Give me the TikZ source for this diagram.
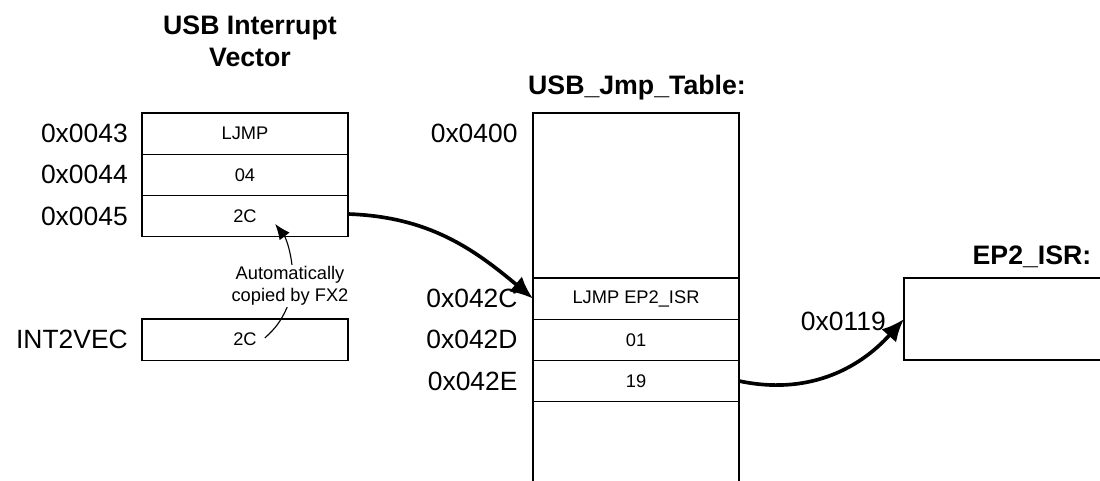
\documentclass[tikz,border=0pt]{standalone}
\usepackage{fontspec}
\setmainfont{Liberation Sans}
\usepackage{tikz}
\usetikzlibrary{arrows.meta, positioning}
\definecolor{lineDark}{HTML}{000000}
\tikzset{
  arrowBig/.style={-{Latex[length=16pt, width=14pt]}, lineDark, line width=2.6pt},
  arrowThin/.style={-{Latex[length=11pt, width=9pt]}, lineDark, line width=0.8pt},
  cellBox/.style={rectangle, draw=lineDark, line width=0.8pt, outer sep=0pt, inner sep=0pt,
                  minimum width=5.15cm, minimum height=1.03cm,
                  font=\fontsize{13}{15}\selectfont},
  addrLabel/.style={font=\fontsize{18.8}{22}\selectfont, inner sep=0pt},
  titleLabel/.style={font=\bfseries\fontsize{19}{23}\selectfont, align=center, inner sep=0pt},
}
\begin{document}
\begin{tikzpicture}[node distance=0.35cm]
    \clip (0,0) rectangle (27.5,12);
    \fill[white] (0,0) rectangle (27.5,12);

    % vector de interrupcion USB
    \node[titleLabel] (vecTitle) at (6.25, 10.975) {USB Interrupt\\Vector};
    \node[cellBox, anchor=north west] (vecA) at (3.55, 9.175) {LJMP};
    \node[cellBox, below=0pt of vecA] (vecB) {04};
    \node[cellBox, below=0pt of vecB] (vecC) {2C};
    \node[addrLabel, left=of vecA] {0x0043};
    \node[addrLabel, left=of vecB] {0x0044};
    \node[addrLabel, left=of vecC] {0x0045};

    \node[cellBox, anchor=north west] (intVec) at (3.55, 4.025) {2C};
    \node[addrLabel, left=of intVec] {INT2VEC};

    % tabla de saltos
    \node[titleLabel] (jmpTitle) at (15.925, 9.8) {USB\_Jmp\_Table:};
    \node[cellBox, anchor=north west, minimum height=4.125cm] (jmpTop) at (13.325, 9.175) {};
    \node[cellBox, below=0pt of jmpTop] (jmpA) {LJMP EP2\_ISR};
    \node[cellBox, below=0pt of jmpA] (jmpB) {01};
    \node[cellBox, below=0pt of jmpB] (jmpC) {19};
    \node[cellBox, below=0pt of jmpC, minimum height=2.6cm] (jmpBot) {};
    \node[addrLabel, anchor=east] at ([xshift=-0.38cm, yshift=-0.5cm]jmpTop.north west) {0x0400};
    \node[addrLabel, left=0.38cm of jmpA] {0x042C};
    \node[addrLabel, left=0.38cm of jmpB] {0x042D};
    \node[addrLabel, left=0.38cm of jmpC] {0x042E};

    % rutina EP2
    \node[titleLabel] (isrTitle) at (25.8, 5.575) {EP2\_ISR:};
    \node[cellBox, anchor=north west, minimum width=6cm, minimum height=2.05cm] (isr) at (22.6, 5.05) {};
    \node[addrLabel, anchor=east] (isrAddr) at ([xshift=-0.45cm, yshift=-0.05cm]isr.west) {0x0119};

    % copia automatica
    \node[font=\fontsize{13}{15.5}\selectfont, align=center, inner sep=1pt] (copyNote) at (7.25, 4.85)
      {Automatically\\copied by FX2};
    \coordinate (copyTip) at (6.88, 6.4);
    \coordinate (copyTail) at (6.62, 3.55);
    \draw[arrowThin] ([xshift=0.05cm]copyNote.north) to[bend right=15] (copyTip);
    \draw[lineDark, line width=0.8pt] ([xshift=-0.07cm]copyNote.south) to[bend left=12] (copyTail);

    % saltos
    \draw[arrowBig] ([yshift=0.05cm]vecC.east) to[out=-2, in=140] (jmpA.west);
    \draw[arrowBig] (jmpC.east) to[out=-12, in=-132] (isr.west);
\end{tikzpicture}
\end{document}
